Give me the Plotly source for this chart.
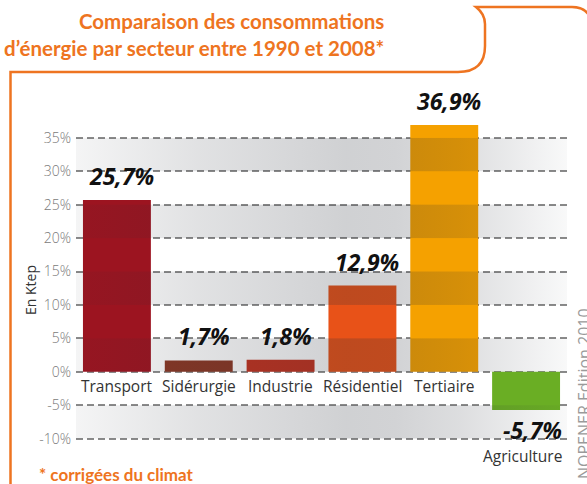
import base64
import plotly.graph_objects as go

categories = ["Transport", "Sidérurgie", "Industrie", "Résidentiel", "Tertiaire", "Agriculture"]
values = [25.7, 1.7, 1.8, 12.9, 36.9, -5.7]
bar_colors = ["#9c1420", "#8a3724", "#c2321f", "#e85218", "#f5a100", "#6aae24"]
tick_vals = [-10, -5, 0, 5, 10, 15, 20, 25, 30, 35]
tick_text = ["-10%", "-5%", "0%", "5%", "10%", "15%", "20%", "25%", "30%", "35%"]
bands = [(30, 35), (20, 25), (10, 15), (0, 5), (-10, -5)]

W, H = 587, 484
ML, MR, MT, MB = 76, 20, 91, 42
PW, PH = W - ML - MR, H - MT - MB
ORANGE = "#ee7421"
BAND_TOP, BAND_BOT = 35, -10

def px(x):
    return (x - ML) / PW

def py(y):
    return (H - MB - y) / PH

fig = go.Figure()
fig.add_trace(go.Bar(x=categories, y=values, marker=dict(color=bar_colors, line=dict(width=0)),
                     width=0.83, hoverinfo="skip"))

# gradient bands drawn as an SVG overlay (semi-transparent so bars get darker inside them)
stops = [(0, 0.05), (0.25, 0.14), (0.55, 0.22), (0.65, 0.21), (0.78, 0.16), (0.9, 0.09), (1, 0.03)]
stop_xml = "".join('<stop offset="%g" stop-color="rgb(40,45,55)" stop-opacity="%g"/>' % s for s in stops)
span = BAND_TOP - BAND_BOT
rects = "".join('<rect x="0" y="%g" width="1000" height="%g" fill="url(#g)"/>'
                % ((BAND_TOP - hi) / span * 1000, (hi - lo) / span * 1000) for lo, hi in bands)
svg = ('<svg xmlns="http://www.w3.org/2000/svg" width="1000" height="1000" viewBox="0 0 1000 1000" '
       'preserveAspectRatio="none"><defs><linearGradient id="g" x1="0" y1="0" x2="1" y2="0">%s'
       '</linearGradient></defs>%s</svg>') % (stop_xml, rects)
src = "data:image/svg+xml;base64," + base64.b64encode(svg.encode()).decode()

annotations = []
for i, (c, v) in enumerate(zip(categories, values)):
    label = ("%.1f%%" % v).replace(".", ",")
    if v >= 0:
        annotations.append(dict(x=i, y=v, xref="x", yref="y", text="<b><i>%s</i></b>" % label,
                                showarrow=False, yanchor="bottom", yshift=6, xshift=5,
                                font=dict(size=23, color="#111", family="Open Sans")))
        annotations.append(dict(x=i, y=0, xref="x", yref="y", text=c, showarrow=False,
                                yanchor="top", yshift=-1, font=dict(size=15.5, color="#333", family="Open Sans")))
    else:
        annotations.append(dict(x=i, y=v, xref="x", yref="y", text="<b><i>%s</i></b>" % label,
                                showarrow=False, yanchor="top", yshift=-2, xshift=6,
                                font=dict(size=23, color="#111", family="Open Sans")))
        annotations.append(dict(x=i, y=BAND_BOT, xref="x", yref="y", text=c, showarrow=False,
                                yanchor="top", yshift=-4, xshift=-4,
                                font=dict(size=15.5, color="#333", family="Open Sans")))

annotations += [
    dict(x=px(386), y=py(35), xref="paper", yref="paper", xanchor="right", yanchor="middle", align="right",
         text="<b>Comparaison des consommations<br>d’énergie par secteur entre 1990 et 2008*</b>",
         showarrow=False, font=dict(size=20.5, color=ORANGE, family="Lato")),
    dict(x=px(37), y=py(474), xref="paper", yref="paper", xanchor="left", yanchor="middle",
         text="<b>* corrigées du climat</b>", showarrow=False, font=dict(size=17, color=ORANGE, family="Lato")),
    dict(x=px(30), y=py(290), xref="paper", yref="paper", xanchor="center", yanchor="middle",
         text="En Ktep", textangle=-90, showarrow=False, font=dict(size=14, color="#333", family="Open Sans")),
    dict(x=px(584), y=py(394), xref="paper", yref="paper", xanchor="center", yanchor="middle",
         text="NOPENER Edition 2010", textangle=-90, showarrow=False,
         font=dict(size=16, color="#9a9a9a", family="Open Sans")),
]

frame_path = "M {},{} L {},{} L {},{} Q {},{} {},{} L {},{} Q {},{} {},{} L {},{} Q {},{} {},{}".format(
    px(10.5), py(490), px(10.5), py(72), px(458), py(72), px(485), py(72), px(485), py(46),
    px(485), py(24), px(485), py(14), px(476), py(7), px(572), py(7), px(588), py(7), px(592), py(22))

fig.update_layout(
    width=W, height=H, margin=dict(l=ML, r=MR, t=MT, b=MB),
    paper_bgcolor="white", plot_bgcolor="white", showlegend=False, bargap=0.17,
    xaxis=dict(range=[-0.5, 5.5], showticklabels=False, showgrid=False, zeroline=False, fixedrange=True),
    yaxis=dict(range=[-10.5, 42], tickvals=tick_vals, ticktext=tick_text, showgrid=True,
               gridcolor="#8a8a8a", gridwidth=1.5, griddash="7px,4px", zeroline=False,
               tickfont=dict(size=14, color="#7a7a7a", family="Open Sans", weight=300),
               ticks="", ticklabelstandoff=4, fixedrange=True),
    annotations=annotations,
    images=[dict(source=src, xref="x", yref="y", x=-0.5, y=BAND_TOP, sizex=6, sizey=span,
                 xanchor="left", yanchor="top", sizing="stretch", layer="above", opacity=1)],
    shapes=[dict(type="path", xref="paper", yref="paper", path=frame_path,
                 line=dict(color=ORANGE, width=2.5))],
)
fig.write_html("out.html", config={"displayModeBar": False},
               post_script="document.body.style.margin='0';")
